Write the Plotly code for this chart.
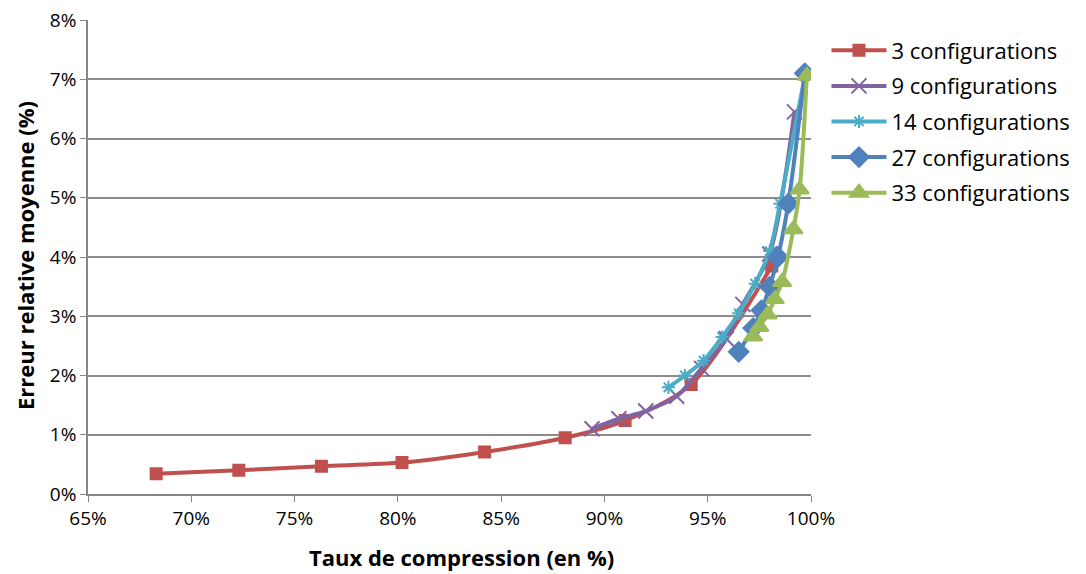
import plotly.graph_objects as go

# Taux de compression (%) / erreur relative moyenne (%)
x_3 = [68.3, 72.3, 76.3, 80.2, 84.2, 88.1, 91.0, 94.2, 98.1]
y_3 = [0.34, 0.40, 0.47, 0.53, 0.71, 0.95, 1.24, 1.85, 3.85]

x_9 = [89.4, 90.7, 92.0, 93.5, 94.7, 95.9, 96.7, 98.0, 99.2]
y_9 = [1.10, 1.27, 1.40, 1.65, 2.12, 2.62, 3.20, 4.05, 6.45]

x_14 = [93.1, 93.9, 94.8, 95.7, 96.5, 97.3, 98.0, 98.5, 99.7]
y_14 = [1.80, 2.00, 2.25, 2.65, 3.05, 3.55, 4.10, 4.90, 7.05]

x_27 = [96.5, 97.2, 97.6, 98.0, 98.4, 98.9, 99.7]
y_27 = [2.40, 2.80, 3.10, 3.50, 4.00, 4.90, 7.10]

x_33 = [97.2, 97.5, 97.9, 98.25, 98.6, 99.15, 99.45, 99.8]
y_33 = [2.66, 2.82, 3.03, 3.29, 3.58, 4.47, 5.14, 7.06]

series = [
    ("3 configurations", x_3, y_3, "#C0504D", "square", 11),
    ("9 configurations", x_9, y_9, "#8064A2", "x-thin", 15),
    ("14 configurations", x_14, y_14, "#4BACC6", "asterisk", 11),
    ("27 configurations", x_27, y_27, "#4F81BD", "diamond", 15),
    ("33 configurations", x_33, y_33, "#9BBB59", "triangle-up", 16),
]

fig = go.Figure()

for name, xs, ys, color, symbol, size in series:
    fig.add_trace(go.Scatter(
        x=xs,
        y=ys,
        mode='lines+markers',
        name=name,
        legendgroup=name,
        line=dict(color=color, width=4, shape='spline', smoothing=0.8),
        marker=dict(symbol=symbol, size=size, color=color,
                    line=dict(color=color, width=2))
    ))

font_family = "Open Sans, Noto Sans, sans-serif"

# page body has an 8px margin, so the figure sits 8px in from the window corner
fig.update_layout(
    width=1078,
    height=566,
    margin=dict(l=80, r=274, t=12, b=80),
    plot_bgcolor='white',
    paper_bgcolor='white',
    font=dict(family=font_family, size=19, color='black'),
    legend=dict(
        x=1.02, y=0.98,
        xanchor='left', yanchor='top',
        font=dict(size=22),
        tracegroupgap=4,
        itemwidth=55
    ),
    xaxis=dict(
        range=[65, 100],
        tick0=65, dtick=5,
        ticksuffix='%',
        showgrid=False,
        showline=True, linecolor='#868686', linewidth=1.5,
        ticks='outside', ticklen=6, tickcolor='#868686',
        zeroline=False,
        automargin=False,
        ticklabeloverflow='allow'
    ),
    yaxis=dict(
        range=[0, 8],
        dtick=1,
        ticksuffix='%',
        showgrid=True, gridcolor='#8C8C8C', gridwidth=1.5,
        showline=True, linecolor='#868686', linewidth=1.5,
        ticks='outside', ticklen=6, tickcolor='#868686',
        zeroline=False,
        automargin=False,
        ticklabeloverflow='allow'
    ),
    annotations=[
        dict(text="<b>Taux de compression (en %)</b>",
             xref='paper', yref='paper', x=0.517, y=0,
             xanchor='center', yanchor='middle',
             yshift=-63, showarrow=False, font=dict(size=22)),
        dict(text="<b>Erreur relative moyenne (%)</b>",
             xref='paper', yref='paper', x=0, y=0.502,
             xanchor='center', yanchor='middle',
             xshift=-63, textangle=-90, showarrow=False,
             font=dict(size=22)),
    ]
)

fig.write_html("out.html")
